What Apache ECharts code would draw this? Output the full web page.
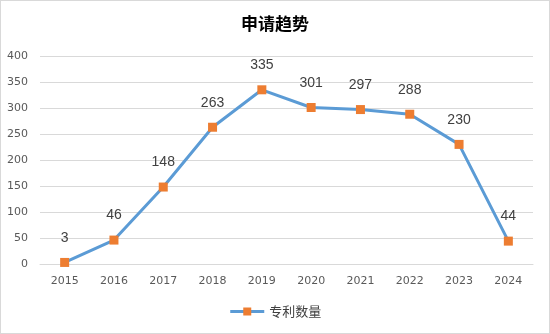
<!DOCTYPE html>
<html>
<head>
<meta charset="utf-8">
<script src="https://cdn.jsdelivr.net/npm/echarts@6/dist/echarts.min.js"></script>
<style>
html,body{margin:0;padding:0;background:#fff;}
#c{width:548px;height:332px;border:1px solid #d9d9d9;}
</style>
</head>
<body>
<div id="c"></div>
<script>
// Yearly application counts
const years = ['2015','2016','2017','2018','2019','2020','2021','2022','2023','2024'];
const counts = [3, 46, 148, 263, 335, 301, 297, 288, 230, 44];
const yTicks = { min: 0, max: 400, interval: 50 };

const chart = echarts.init(document.getElementById('c'));
chart.setOption({
  backgroundColor: '#fff',
  animation: false,
  title: {
    text: '申请趋势',
    left: 'center',
    top: 9,
    textStyle: { fontFamily: 'Noto Sans CJK SC', fontSize: 17, fontWeight: 'bold', color: '#000' }
  },
  legend: {
    bottom: 10,
    left: 'center',
    itemWidth: 34,
    itemHeight: 10,
    itemGap: 6,
    lineStyle: { width: 3 },
    textStyle: { fontFamily: 'Noto Sans CJK SC', fontSize: 13, color: '#404040' },
    data: ['专利数量']
  },
  grid: { left: 39, right: 16, top: 55, bottom: 69 },
  xAxis: {
    type: 'category',
    data: years,
    boundaryGap: true,
    axisLine: { lineStyle: { color: '#d9d9d9' } },
    axisTick: { show: false },
    axisLabel: { color: '#595959', fontSize: 11, fontFamily: 'DejaVu Sans', margin: 12 }
  },
  yAxis: {
    type: 'value',
    min: yTicks.min, max: yTicks.max, interval: yTicks.interval,
    axisLine: { show: false },
    axisTick: { show: false },
    axisLabel: { color: '#595959', fontSize: 11, fontFamily: 'DejaVu Sans', margin: 12 },
    splitLine: { lineStyle: { color: '#d9d9d9' } }
  },
  series: [{
    name: '专利数量',
    type: 'line',
    data: counts,
    symbol: 'rect',
    symbolSize: 9,
    lineStyle: { color: '#5B9BD5', width: 3 },
    itemStyle: { color: '#ED7D31' },
    label: {
      show: true,
      position: 'top',
      distance: 13,
      fontSize: 14,
      color: '#404040',
      fontFamily: 'Liberation Sans'
    }
  }]
});
</script>
</body>
</html>
